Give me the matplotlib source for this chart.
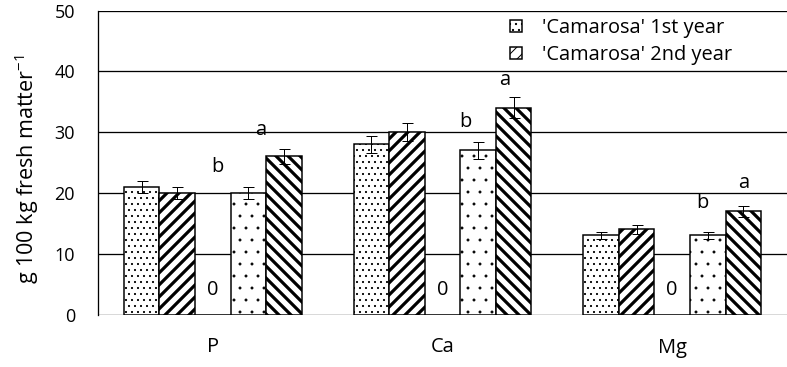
import numpy as np
import matplotlib
matplotlib.use("Agg")
import matplotlib.pyplot as plt

plt.rcParams['font.family'] = ['Open Sans', 'DejaVu Sans']
plt.rcParams['mathtext.fontset'] = 'custom'
plt.rcParams['mathtext.rm'] = 'Open Sans'
plt.rcParams['mathtext.it'] = 'Open Sans:italic'

elements = ['P', 'Ca', 'Mg']
camarosa_1st = [21, 28, 13]
camarosa_2nd = [20, 30, 14]
zero_series = [0, 0, 0]
second_1st = [20, 27, 13]
second_2nd = [26, 34, 17]
err_1st = [1.0, 1.4, 0.65]
err_2nd = [1.0, 1.5, 0.75]
err_s1 = [1.0, 1.35, 0.65]
err_s2 = [1.2, 1.7, 0.9]
zero_labels = ['0', '0', '0']
# significance letters: (x, y, text)
letters_x = [0.02, 0.21, 1.10, 1.27, 2.13, 2.31]
letters_y = [24.3, 30.3, 31.6, 38.5, 18.3, 21.7]
letters = ['b', 'a', 'b', 'a', 'b', 'a']

fig = plt.figure(figsize=(787 / 72, 367 / 72), dpi=72)
ax = fig.add_axes([98 / 787, 1 - 314.5 / 367, 1 - 98 / 787, 304 / 367])

x = np.arange(len(elements))
w = 0.155

series = [
    (camarosa_1st, err_1st, '..', 0.9, "'Camarosa' 1st year"),
    (camarosa_2nd, err_2nd, '//', 3.2, "'Camarosa' 2nd year"),
    (zero_series, None, '', 1.0, None),
    (second_1st, err_s1, '.', 0.4, None),
    (second_2nd, err_s2, '\\\\', 3.2, None),
]

for i, (vals, errs, hatch, hlw, label) in enumerate(series):
    with plt.rc_context({'hatch.linewidth': hlw}):
        bars = ax.bar(x + (i - 2) * w, vals, w, color='white', edgecolor='black',
                      linewidth=1.5, hatch=hatch, label=label, zorder=3)
        for b in bars:
            if hasattr(b, 'set_hatch_linewidth'):
                b.set_hatch_linewidth(hlw)
    if errs is not None:
        ax.errorbar(x + (i - 2) * w, vals, yerr=errs, fmt='none', ecolor='black',
                    elinewidth=1, capsize=5.5, capthick=1, zorder=4)

for i in range(len(elements)):
    ax.text(x[i], 4, zero_labels[i], ha='center', va='center', fontsize=20, zorder=5)

for lx, ly, t in zip(letters_x, letters_y, letters):
    ax.text(lx, ly, t, ha='center', va='center', fontsize=20, zorder=5)

ax.set_xlim(-0.5, 2.5)
ax.set_ylim(0, 50)
ax.set_yticks([0, 10, 20, 30, 40, 50])
ax.set_xticks(x)
ax.set_xticklabels(elements)
ax.tick_params(axis='both', length=0)
ax.tick_params(axis='y', pad=23, labelsize=18)
ax.tick_params(axis='x', pad=23, labelsize=20)
ax.yaxis.grid(True, color='black', linewidth=1.3, zorder=0)
ax.set_axisbelow(True)
for s in ['top', 'right', 'bottom']:
    ax.spines[s].set_visible(False)
ax.spines['left'].set_linewidth(1.3)

ax.set_ylabel(r'g 100 kg fresh matter$^{-1}$', fontsize=21.5)
ax.yaxis.set_label_coords(-0.083, 0.479)

ax.legend(loc='upper left', bbox_to_anchor=(0.598, 0.975), frameon=False,
          fontsize=20, handlelength=0.6, handleheight=0.6, handletextpad=1.0,
          labelspacing=0.35, borderaxespad=0.0, borderpad=0.0)

fig.savefig('out.png', dpi=72)
